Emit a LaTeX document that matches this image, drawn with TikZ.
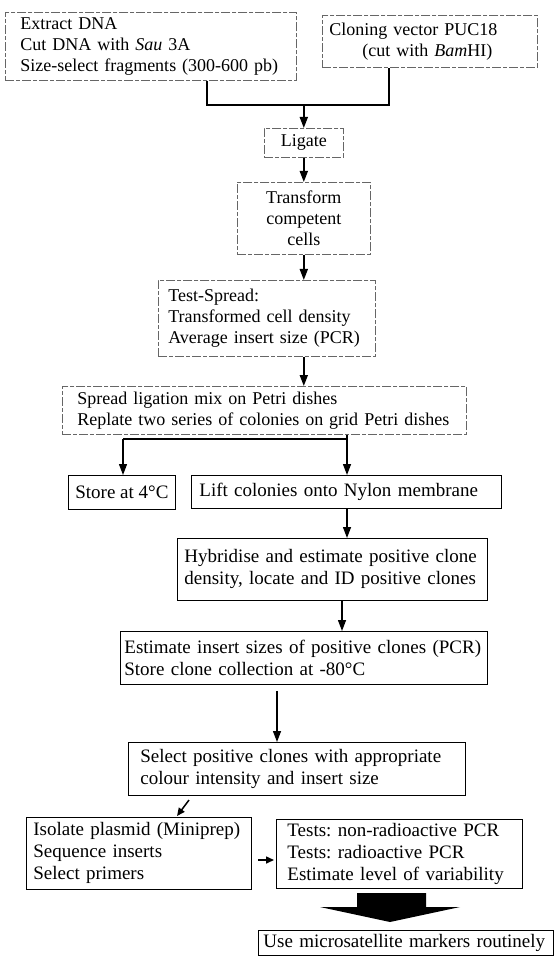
\documentclass[tikz,border=0pt]{standalone}
\usepackage{fontspec}
\setmainfont{Liberation Serif}
\frenchspacing
\usetikzlibrary{arrows.meta}
\newcommand{\topsize}{\fontsize{18}{21}\selectfont}
\newcommand{\lowsize}{\fontsize{19}{22}\selectfont}

\begin{document}
\begin{tikzpicture}[>={Triangle[length=11pt,width=8pt]}, x=1pt, y=-1pt,
        faint/.style={draw=black!60, dash pattern=on 9pt off 2pt on 4pt off 2pt, line width=0.6pt, anchor=north west, inner ysep=0pt, font=\topsize},
        plainbox/.style={draw, line width=0.8pt, anchor=north west, inner ysep=0pt, font=\lowsize},
        flow/.style={line width=1.8pt},
        stepline/.style={->, line width=1.3pt},
        tinyarrow/.style={-{Triangle[length=8pt,width=7pt]}, line width=1.5pt}]
        \useasboundingbox (0,0) rectangle (558,957);

        % upper part (faint boxes)
        \node[faint, inner xsep=15pt, text width=261pt, minimum height=68pt, align=left] (ext) at (5,12)
            {Extract DNA\\ Cut DNA with \textit{Sau} 3A\\ Size-select fragments (300-600 pb)};
        \node[faint, inner xsep=7pt, text width=201pt, minimum height=52pt, align=left] (vec) at (322,15)
            {Cloning vector PUC18\\ \hspace*{33pt}(cut with \textit{Bam}HI)};
        \node[faint, inner xsep=5pt, text width=69pt, minimum height=29pt, align=center] (lig) at (264,128) {Ligate};
        \node[faint, inner xsep=5pt, text width=123pt, minimum height=72pt, align=center] (trans) at (237,182)
            {Transform\\ competent\\ cells};
        \node[faint, inner xsep=10pt, text width=197pt, minimum height=76pt, align=left] (test) at (158,280)
            {Test-Spread:\\ Transformed cell density\\ Average insert size (PCR)};
        \node[faint, inner xsep=15pt, text width=374pt, minimum height=48pt, align=left] (spread) at (62,386)
            {Spread ligation mix on Petri dishes\\ Replate two series of colonies on grid Petri dishes};

        % lower part (solid boxes)
        \node[plainbox, inner xsep=3pt, minimum width=107pt, minimum height=34pt] (store) at (68,475) {Store at 4°C};
        \node[plainbox, inner xsep=8pt, text width=294pt, minimum height=33pt, align=left] (lift) at (191,475)
            {Lift colonies onto Nylon membrane};
        \node[plainbox, inner xsep=7pt, text width=296pt, minimum height=62pt, align=left] (hyb) at (177,538)
            {Hybridise and estimate positive clone\\ density, locate and ID positive clones};
        \node[plainbox, inner xsep=4pt, text width=359pt, minimum height=53pt, align=left] (est) at (120,631)
            {Estimate insert sizes of positive clones (PCR)\\ Store clone collection at -80°C};
        \node[plainbox, inner xsep=12pt, text width=313pt, minimum height=53pt, align=left] (sel) at (128,742)
            {Select positive clones with appropriate\\ colour intensity and insert size};
        \node[plainbox, inner xsep=7pt, text width=211pt, minimum height=72pt, align=left] (iso) at (26,817)
            {Isolate plasmid (Miniprep)\\ Sequence inserts\\ Select primers};
        \node[plainbox, inner xsep=11pt, text width=224pt, minimum height=69pt, align=left] (tests) at (276,819)
            {Tests: non-radioactive PCR\\ Tests: radioactive PCR\\ Estimate level of variability};
        \node[plainbox, inner xsep=5pt, text width=285pt, minimum height=25pt, align=left] (use) at (258,930)
            {Use microsatellite markers routinely};

        % joins
        \coordinate (ja) at (207,105);
        \coordinate (jb) at (389,105);
        \coordinate (jc) at (347,439);
        \coordinate (jd) at (123,439);
        \coordinate (ke) at (342,600);
        \coordinate (kf) at (277,690);
        \coordinate (d1) at (189,800);
        \coordinate (d2) at (177,816);
        \coordinate (e1) at (258,860);
        \coordinate (e2) at (274,860);

        \draw[flow] (ja |- ext.south) -- (ja) -- (jb) -- (jb |- vec.south);
        \draw[flow, ->] (lig.north |- ja) -- (lig.north);
        \draw[flow, ->] (lig.south) -- (trans.north);
        \draw[flow, ->] (trans.south) -- (trans.south |- test.north);
        \draw[flow, ->] (trans.south |- test.south) -- (trans.south |- spread.north);

        \draw[stepline, -] (jc |- spread.south) -- (jc) -- (jd);
        \draw[stepline] (jc) -- (jc |- lift.north);
        \draw[stepline] (jd) -- (jd |- store.north);
        \draw[stepline] (jc |- lift.south) -- (jc |- hyb.north);
        \draw[stepline] (ke |- hyb.south) -- (ke |- est.north);
        \draw[stepline, shorten <=6pt] (kf |- est.south) -- (kf |- sel.north);
        \draw[tinyarrow] (d1) -- (d2);
        \draw[tinyarrow] (e1) -- (e2);

        % block arrow
        \fill (357,893) -- (426,893) -- (426,907) -- (460,907) -- (390,922) -- (320,907) -- (357,907) -- cycle;
\end{tikzpicture}
\end{document}
